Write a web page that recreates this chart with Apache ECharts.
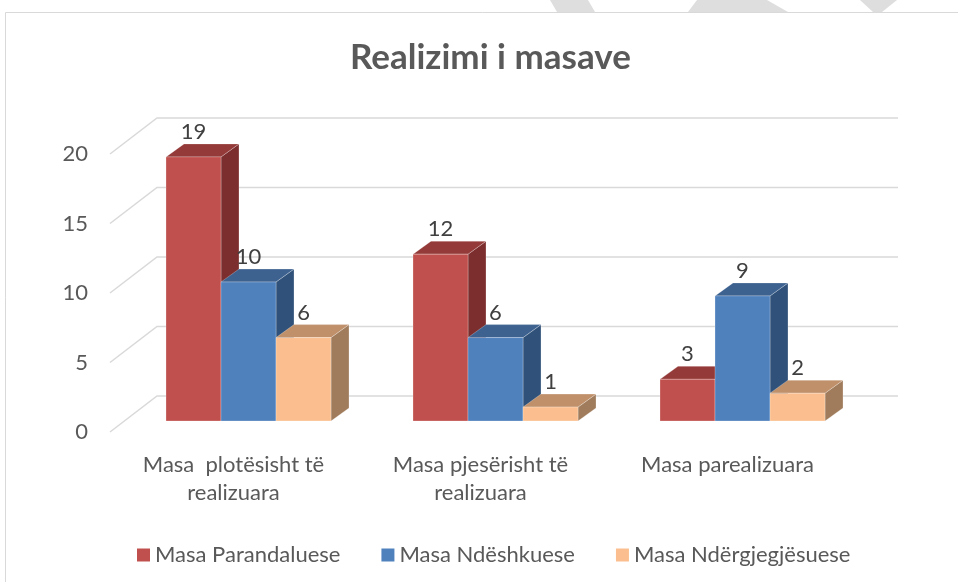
<!DOCTYPE html>
<html>
<head>
<meta charset="utf-8">
<script src="https://cdn.jsdelivr.net/npm/echarts@6/dist/echarts.min.js"></script>
<style>
  html, body { margin: 0; padding: 0; background: #fff; }
  #chart { width: 958px; height: 582px; }
</style>
</head>
<body>
<div id="chart"></div>
<script>
const categories = ['Masa  plotësisht të\nrealizuara', 'Masa pjesërisht të\nrealizuara', 'Masa parealizuara'];
const seriesNames = ['Masa Parandaluese', 'Masa Ndëshkuese', 'Masa Ndërgjegjësuese'];
const parandaluese = [19, 12, 3];
const ndeshkuese = [10, 6, 9];
const ndergjegjesuese = [6, 1, 2];
const yTicks = [0, 5, 10, 15, 20];

const FONT = 'Lato, "Noto Sans", sans-serif';
// 3D projection offsets (px)
const WALL_DX = 47, WALL_DY = -36;   // front edge -> back wall
const FRONT_DX = 15, FRONT_DY = -11; // front edge -> bar front face
const DEPTH_DX = 18, DEPTH_DY = -13; // bar front -> bar back

const palette = [
  { front: '#c0504d', top: '#943a38', side: '#7b2e2d' },
  { front: '#4f81bd', top: '#3d6290', side: '#30527a' },
  { front: '#fbbf8f', top: '#bf906a', side: '#a07c5c' }
];

const chart = echarts.init(document.getElementById('chart'));

function barRenderer(idx) {
  const c = palette[idx];
  return function (params, api) {
    const cat = api.value(0), val = api.value(1);
    const top = api.coord([cat, val]);
    const base = api.coord([cat, 0]);
    const band = api.size([1, 0])[0];
    const bw = band * 0.2227;
    const x0 = top[0] + FRONT_DX - 1.5 * bw + idx * bw;
    const x1 = x0 + bw;
    const yT = top[1] + FRONT_DY;
    const yB = base[1] + FRONT_DY;
    const edge = 'rgba(255,255,255,0.25)';
    return {
      type: 'group',
      children: [
        {
          type: 'polygon',
          shape: { points: [[x1, yB], [x1 + DEPTH_DX, yB + DEPTH_DY], [x1 + DEPTH_DX, yT + DEPTH_DY], [x1, yT]] },
          style: { fill: c.side, stroke: edge, lineWidth: 1 }
        },
        {
          type: 'polygon',
          shape: { points: [[x0, yT], [x0 + DEPTH_DX, yT + DEPTH_DY], [x1 + DEPTH_DX, yT + DEPTH_DY], [x1, yT]] },
          style: { fill: c.top, stroke: edge, lineWidth: 1 }
        },
        {
          type: 'rect',
          shape: { x: x0, y: yT, width: bw, height: yB - yT },
          style: { fill: c.front, stroke: edge, lineWidth: 1 }
        },
        {
          type: 'text',
          style: {
            text: String(val),
            x: (x0 + x1) / 2,
            y: yT - 14,
            align: 'center',
            verticalAlign: 'bottom',
            fill: '#404040',
            fontSize: 22,
            fontFamily: FONT
          }
        }
      ]
    };
  };
}

function gridRenderer(params, api) {
  const p = api.coord([0, api.value(0)]);
  const cs = params.coordSys;
  const xl = cs.x;
  const xr = cs.x + cs.width;
  return {
    type: 'polyline',
    shape: { points: [[xl, p[1]], [xl + WALL_DX, p[1] + WALL_DY], [xr + WALL_DX, p[1] + WALL_DY]] },
    style: { stroke: '#d9d9d9', lineWidth: 1.5, fill: null }
  };
}

const seriesData = [parandaluese, ndeshkuese, ndergjegjesuese];

const option = {
  backgroundColor: '#ffffff',
  animation: false,
  title: {
    text: 'Realizimi i masave',
    left: 345,
    top: 35,
    textStyle: { color: '#595959', fontSize: 35, fontWeight: 'bold', fontFamily: FONT }
  },
  graphic: [
    { type: 'polygon', shape: { points: [[550, 0], [588, 0], [595, 12], [557, 12]] }, style: { fill: '#dedede' }, silent: true },
    { type: 'polygon', shape: { points: [[688, 12], [697, 0], [767, 0], [788, 12]] }, style: { fill: '#dedede' }, silent: true },
    { type: 'polygon', shape: { points: [[860, 0], [897, 0], [882, 12], [873, 12]] }, style: { fill: '#dedede' }, silent: true },
    { type: 'rect', shape: { x: 5.5, y: 12.5, width: 1000, height: 700 }, style: { fill: null, stroke: '#d9d9d9', lineWidth: 1 }, silent: true }
  ],
  legend: {
    left: 132,
    top: 539,
    icon: 'rect',
    itemWidth: 13,
    itemHeight: 13,
    itemGap: 41,
    data: seriesNames,
    textStyle: { color: '#595959', fontSize: 22, fontFamily: FONT }
  },
  grid: { left: 110, right: 107, top: 154, bottom: 150 },
  xAxis: {
    type: 'category',
    data: categories,
    axisLine: { show: false },
    axisTick: { show: false },
    splitLine: { show: false },
    axisLabel: { color: '#595959', fontSize: 22, lineHeight: 28, margin: 19, fontFamily: FONT, interval: 0 }
  },
  yAxis: {
    type: 'value',
    min: 0,
    max: 20,
    interval: 5,
    axisLine: { show: false },
    axisTick: { show: false },
    splitLine: { show: false },
    axisLabel: { color: '#595959', fontSize: 22, margin: 22, fontFamily: FONT }
  },
  series: [
    {
      type: 'custom',
      name: 'grid',
      renderItem: gridRenderer,
      data: yTicks.map(v => [v]),
      encode: { y: 0 },
      silent: true,
      z: 1
    }
  ].concat(seriesData.map((arr, i) => ({
    type: 'custom',
    name: seriesNames[i],
    itemStyle: { color: palette[i].front },
    renderItem: barRenderer(i),
    data: arr.map((v, j) => [j, v]),
    encode: { x: 0, y: 1 },
    z: 2
  })))
};

chart.setOption(option);
</script>
</body>
</html>
